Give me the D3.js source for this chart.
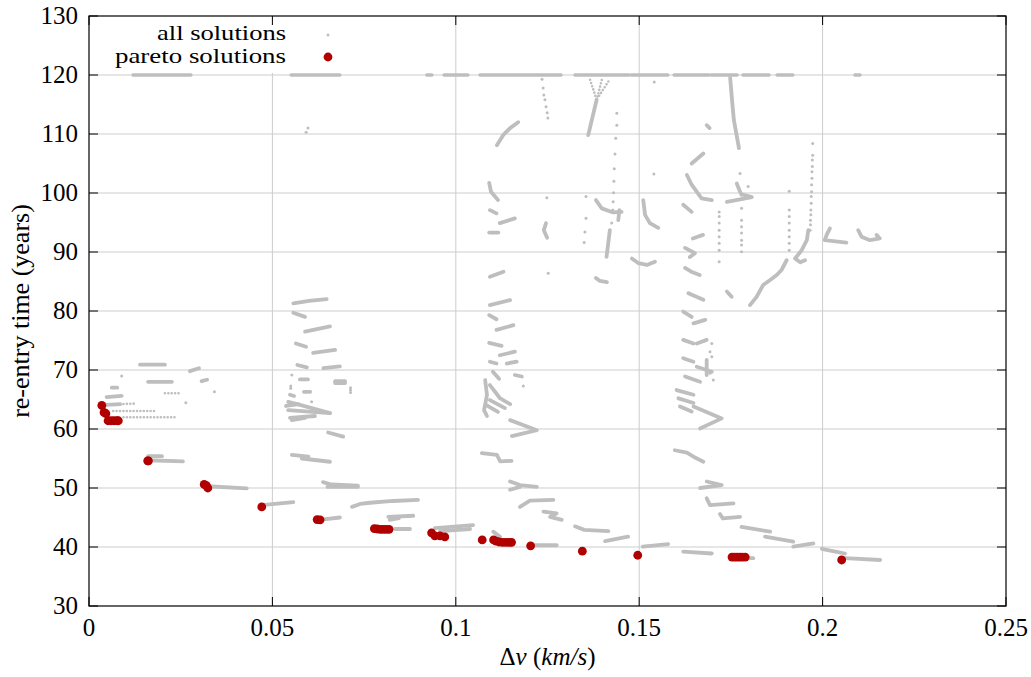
<!DOCTYPE html>
<html><head><meta charset="utf-8">
<script src="https://cdn.jsdelivr.net/npm/d3@7"></script>
<style>body{margin:0;background:#fff}</style>
</head><body><svg id="c" width="1031" height="677"></svg>
<script>
// ---------- data ----------
const xTicks=[0,0.05,0.1,0.15,0.2,0.25];
const xTickLabels=["0","0.05","0.1","0.15","0.2","0.25"];
const yTicks=[30,40,50,60,70,80,90,100,110,120,130];
const seriesNames=["all solutions","pareto solutions"];

// runs of solutions stacked on the 120-year cap: [xStart,xEnd]
const capValue=120;
const topRuns=[[0.0120,0.0278],[0.0551,0.0684],[0.0921,0.0935],[0.0968,0.1033],[0.1066,0.1287],[0.1325,0.1472],[0.1478,0.1578],[0.1595,0.1690],[0.1696,0.1767],[0.1783,0.1854],[0.1876,0.1919],[0.2088,0.2102]];

// dense families of "all solutions" (read as polylines)
const solidTracks=[
 [[0.0139,70.9],[0.0207,70.9]],
 [[0.0275,69.8],[0.0300,70.3]],
 [[0.0161,68.0],[0.0226,68.0]],
 [[0.0307,68.1],[0.0322,68.35]],
 [[0.0062,67.0],[0.0077,67.0]],
 [[0.0048,65.4],[0.0089,65.6]],
 [[0.0048,64.1],[0.0085,64.2]],
 [[0.0161,55.4],[0.0199,55.4]],
 [[0.0161,54.7],[0.0256,54.5]],
 [[0.0324,50.3],[0.0430,49.95]],
 [[0.0471,47.1],[0.0557,47.6]],
 [[0.0627,44.6],[0.0684,45.0]],
 [[0.0553,55.6],[0.0598,55.3]],
 [[0.0580,55.0],[0.0657,54.45]],
 [[0.0638,51.0],[0.0660,50.6],[0.0733,50.4]],
 [[0.0650,50.2],[0.0733,50.2]],
 [[0.0717,46.8],[0.0739,47.3],[0.0766,47.5],[0.0829,47.8],[0.0897,48.0]],
 [[0.0816,45.1],[0.0884,45.3]],
 [[0.0820,44.6],[0.0845,44.9]],
 [[0.0834,43.05],[0.0875,43.05]],
 [[0.0943,43.2],[0.1047,43.7]],
 [[0.0957,42.7],[0.1039,43.05]],
 [[0.1071,55.9],[0.1112,55.6],[0.1121,54.5],[0.1152,54.6]],
 [[0.1148,61.5],[0.1221,59.8],[0.1153,58.8]],
 [[0.1148,51.1],[0.1175,50.5],[0.1221,50.2]],
 [[0.1148,49.7],[0.1175,50.2]],
 [[0.1175,46.8],[0.1202,47.85],[0.1266,48.0]],
 [[0.1239,46.0],[0.1275,45.7],[0.1257,45.1],[0.1289,44.6]],
 [[0.1102,42.6],[0.1121,41.75]],
 [[0.1211,40.3],[0.1275,40.3]],
 [[0.1325,43.5],[0.1350,42.9],[0.1416,42.7]],
 [[0.1407,41.0],[0.1470,41.75]],
 [[0.1510,40.05],[0.1579,40.5]],
 // 0.11 column
 [[0.1091,101.7],[0.1096,100.2],[0.1115,98.8]],
 [[0.1093,97.1],[0.1111,96.55]],
 [[0.1120,94.9],[0.1161,95.7]],
 [[0.1091,93.3],[0.1116,93.3]],
 [[0.1093,85.8],[0.1130,86.65]],
 [[0.1093,81.0],[0.1148,81.85]],
 [[0.1091,79.3],[0.1111,78.6]],
 [[0.1111,76.8],[0.1157,77.6]],
 [[0.1091,74.6],[0.1125,74.1]],
 [[0.1120,72.5],[0.1161,73.1]],
 [[0.1093,71.4],[0.1111,71.1]],
 [[0.1139,71.1],[0.1166,71.4]],
 [[0.1161,69.15],[0.1180,68.9]],
 [[0.1080,68.3],[0.1085,65.8],[0.1077,63.2],[0.1085,62.2]],
 [[0.1093,67.45],[0.1120,65.25],[0.1148,64.2]],
 [[0.1093,64.9],[0.1134,63.55]],
 [[0.1082,64.1],[0.1115,62.9]],
 [[0.1101,69.7],[0.1118,68.5]],
 [[0.1112,108.1],[0.1129,109.8],[0.1148,111.0],[0.1170,112.0]],
 [[0.1246,94.9],[0.1240,93.7],[0.1249,92.4]],
 // 0.14 area
 [[0.1384,115.8],[0.1361,109.8]],
 [[0.1382,98.8],[0.1398,97.4],[0.1429,96.7],[0.1452,96.8]],
 [[0.1446,97.1],[0.1443,95.4]],
 [[0.1420,93.7],[0.1411,89.2]],
 [[0.1511,98.8],[0.1516,96.3],[0.1529,94.9],[0.1552,94.1]],
 [[0.1480,88.9],[0.1498,88.1],[0.1521,87.8],[0.1543,88.35]],
 [[0.1382,85.6],[0.1393,85.1],[0.1412,84.9]],
 // 0.16-0.2 area
 [[0.1684,111.5],[0.1692,111.0]],
 [[0.1748,119.5],[0.1753,115.8],[0.1758,112.4],[0.1772,107.6]],
 [[0.1643,105.0],[0.1675,106.7]],
 [[0.1630,103.05],[0.1643,101.4],[0.1670,99.1],[0.1698,98.8]],
 [[0.1620,98.0],[0.1643,96.8]],
 [[0.1739,98.5],[0.1775,98.9],[0.1807,99.3],[0.1784,99.7]],
 [[0.1766,101.6],[0.1773,100.5],[0.1779,99.7]],
 [[0.1961,93.7],[0.1957,92.0],[0.1943,90.3],[0.1925,88.9],[0.1939,88.25],[0.1952,88.6]],
 [[0.1902,88.6],[0.1888,86.95],[0.1875,86.1],[0.1857,85.25],[0.1838,84.4],[0.1820,82.4],[0.1802,81.0]],
 [[0.1674,92.9],[0.1646,92.3]],
 [[0.1625,90.7],[0.1652,89.8],[0.1638,89.15]],
 [[0.1625,87.3],[0.1644,86.6],[0.1665,86.1]],
 [[0.1634,83.0],[0.1675,81.9]],
 [[0.1739,83.3],[0.1752,82.4]],
 [[0.1620,79.9],[0.1643,79.0]],
 [[0.1648,77.9],[0.1680,78.5]],
 [[0.1620,75.1],[0.1648,74.5]],
 [[0.1657,74.5],[0.1684,75.1]],
 [[0.1620,72.0],[0.1648,71.4]],
 [[0.1657,70.55],[0.1698,69.7]],
 [[0.1684,71.7],[0.1684,69.15]],
 [[0.1625,68.9],[0.1666,68.0]],
 [[0.1602,66.6],[0.1648,65.8]],
 [[0.1607,65.2],[0.1648,64.4]],
 [[0.1611,63.8],[0.1643,62.95]],
 [[0.1648,63.8],[0.1725,61.8],[0.1666,60.1]],
 [[0.1597,56.4],[0.1630,56.0],[0.1648,55.3],[0.1675,54.45]],
 [[0.1666,50.0],[0.1725,50.5],[0.1684,51.1]],
 [[0.1684,48.25],[0.1693,47.1],[0.1757,47.4]],
 [[0.1720,45.6],[0.1728,44.85],[0.1775,45.1]],
 [[0.1779,43.4],[0.1857,42.6]],
 [[0.1843,41.75],[0.1920,40.9]],
 [[0.1920,40.05],[0.1975,40.6]],
 [[0.1620,39.2],[0.1698,38.9]],
 [[0.1797,38.1],[0.1811,38.1]],
 [[0.1998,39.7],[0.2028,39.3],[0.2061,38.9]],
 [[0.2061,38.1],[0.2157,37.8]],
 [[0.2020,94.0],[0.2011,92.9],[0.2006,92.0],[0.2065,91.6]],
 [[0.2097,93.7],[0.2106,92.6],[0.2129,92.0],[0.2156,92.3],[0.2147,92.9]],
 // 0.055-0.07 cluster
 [[0.0557,81.3],[0.0600,81.7],[0.0648,82.0]],
 [[0.0557,79.7],[0.0589,79.0]],
 [[0.0589,76.5],[0.0657,77.4]],
 [[0.0564,74.5],[0.0592,73.95]],
 [[0.0611,72.9],[0.0671,73.4]],
 [[0.0568,70.85],[0.0594,70.45]],
 [[0.0639,70.3],[0.0684,70.6]],
 [[0.0575,68.4],[0.0597,68.4]],
 [[0.0671,68.1],[0.0698,68.1]],
 [[0.0671,67.8],[0.0698,67.8]],
 [[0.0586,66.3],[0.0603,66.3]],
 [[0.0548,65.8],[0.0559,65.6]],
 [[0.0537,63.9],[0.0571,64.2]],
 [[0.0543,64.6],[0.0575,64.1],[0.0657,62.7]],
 [[0.0543,63.2],[0.0657,62.7]],
 [[0.0548,61.9],[0.0616,62.2]],
 [[0.0553,61.5],[0.0589,61.9]],
 [[0.0652,59.4],[0.0693,58.7]]
];

// sparse rows of individual solutions (evenly spaced dots in the picture)
const dottedTracks=[
 [[0.0094,64.25],[0.0125,64.3]],
 [[0.0066,63.05],[0.0185,63.05]],
 [[0.0094,62.0],[0.0237,62.0]],
 [[0.0207,66.05],[0.0246,66.05]],
 [[0.1366,119.2],[0.1384,115.8]],
 [[0.1398,119.15],[0.1384,115.8]],
 [[0.1416,118.9],[0.1387,116.1]]
];

// isolated solutions
const grayDots=[
 [0.1439,113.5],[0.1439,111.5],[0.1436,109.3],[0.1434,106.6],[0.1432,104.1],[0.1431,102.0],[0.1430,100.05],[0.1429,98.5],[0.1428,97.1],[0.1425,94.9],
 [0.1355,99.4],[0.1355,95.7],[0.1352,93.4],[0.1350,91.6],
 [0.1541,118.8],[0.1540,103.2],
 [0.1718,96.8],[0.1718,96.0],[0.1718,94.9],[0.1718,93.7],[0.1718,92.6],[0.1718,91.5],[0.1718,90.3],[0.1718,88.35],
 [0.1779,97.4],[0.1779,95.4],[0.1779,94.3],[0.1779,93.2],[0.1779,92.0],[0.1779,91.2],[0.1779,90.05],
 [0.1909,100.3],[0.1909,97.1],[0.1909,96.0],[0.1909,94.9],[0.1909,93.7],[0.1909,92.6],[0.1909,91.5],[0.1909,90.3],
 [0.1973,108.4],[0.1973,106.4],[0.1972,105.6],[0.1972,104.5],[0.1971,103.6],[0.1971,102.5],[0.1970,101.4],[0.1970,100.2],[0.1969,99.4],[0.1969,98.25],[0.1968,97.1],[0.1968,96.3],[0.1967,95.4],[0.1967,94.6],[0.1966,93.7],
 [0.1775,103.3],[0.1797,101.1],[0.1698,74.5],[0.1693,73.1],[0.1698,72.25],[0.1702,68.3],[0.1693,69.45],
 [0.1248,99.2],[0.1252,86.4],[0.1184,67.3],
 [0.1235,119.3],[0.1238,117.8],[0.1240,116.6],[0.1243,115.8],[0.1246,114.6],[0.1249,113.6],[0.1251,112.7],
 [0.0597,111.0],[0.0592,110.3],[0.0553,69.15],[0.0550,67.3],[0.0550,66.9],[0.0713,67.0],[0.0713,66.6],[0.0713,66.2],[0.0607,64.6],
 [0.0089,69.0],[0.0342,66.3],[0.0264,64.45]
];

// pareto front
const paretoPts=[
 [0.0035,64.0],[0.0041,62.8],[0.0046,62.6],[0.0052,61.4],[0.0060,61.4],[0.0068,61.4],[0.0076,61.4],[0.0080,61.4],
 [0.0160,54.6],[0.0162,54.6],
 [0.0314,50.6],[0.0320,50.4],[0.0324,50.0],
 [0.0471,46.8],
 [0.0622,44.65],[0.0630,44.6],
 [0.0778,43.1],[0.0786,43.05],[0.0794,43.0],[0.0802,43.0],[0.0810,43.0],[0.0818,43.0],
 [0.0934,42.4],[0.0943,41.9],[0.0957,41.9],[0.0970,41.7],
 [0.1072,41.2],
 [0.1103,41.2],[0.1110,41.0],[0.1118,40.85],[0.1127,40.8],[0.1136,40.8],[0.1145,40.8],[0.1152,40.8],
 [0.1204,40.2],[0.1345,39.3],[0.1496,38.6],
 [0.1753,38.3],[0.1760,38.3],[0.1767,38.3],[0.1774,38.3],[0.1781,38.3],[0.1789,38.3],
 [0.2052,37.8]
];

// ---------- drawing ----------
const FONT="'Liberation Serif', 'DejaVu Serif', serif";
const L=89,R=1006,T=16,B=606;
const GRAY="#bebebe",RED="#b00000",GRID="#cdcdcd";
const svg=d3.select("#c");
const x=d3.scaleLinear().domain([0,0.25]).range([L,R]);
const y=d3.scaleLinear().domain([30,130]).range([B,T]);

// grid
svg.append("g").selectAll("line").data(xTicks.slice(1,-1)).join("line")
 .attr("x1",d=>x(d)).attr("x2",d=>x(d)).attr("y1",T).attr("y2",B)
 .attr("stroke",GRID).attr("stroke-width",1);
svg.append("g").selectAll("line").data(yTicks.slice(1,-1)).join("line")
 .attr("x1",L).attr("x2",R).attr("y1",d=>y(d)).attr("y2",d=>y(d))
 .attr("stroke",GRID).attr("stroke-width",1);
// legend background (opaque key box)
svg.append("rect").attr("x",L+1).attr("y",T+1).attr("width",255).attr("height",56).attr("fill","#fff");

const line=d3.line().x(d=>x(d[0])).y(d=>y(d[1]));
const g=svg.append("g");
g.selectAll("line.cap").data(topRuns).join("line").attr("class","cap")
 .attr("x1",d=>x(d[0])).attr("x2",d=>x(d[1])).attr("y1",y(capValue)).attr("y2",y(capValue))
 .attr("stroke",GRAY).attr("stroke-width",3.4).attr("stroke-linecap","round");
g.selectAll("path.solid").data(solidTracks).join("path").attr("class","solid")
 .attr("d",line).attr("fill","none").attr("stroke",GRAY).attr("stroke-width",3.8)
 .attr("stroke-linecap","round").attr("stroke-linejoin","round");
g.selectAll("path.dot").data(dottedTracks).join("path").attr("class","dot")
 .attr("d",line).attr("fill","none").attr("stroke",GRAY).attr("stroke-width",2.6)
 .attr("stroke-linecap","round").attr("stroke-dasharray","0,3.4");
g.selectAll("circle.gd").data(grayDots).join("circle").attr("class","gd")
 .attr("cx",d=>x(d[0])).attr("cy",d=>y(d[1])).attr("r",1.5).attr("fill",GRAY);
g.selectAll("circle.pd").data(paretoPts).join("circle").attr("class","pd")
 .attr("cx",d=>x(d[0])).attr("cy",d=>y(d[1])).attr("r",4.4).attr("fill",RED);

// frame + ticks
svg.append("rect").attr("x",L).attr("y",T).attr("width",R-L).attr("height",B-T)
 .attr("fill","none").attr("stroke","#000").attr("stroke-width",1.2);
const tk=svg.append("g").attr("stroke","#000").attr("stroke-width",1);
yTicks.forEach(v=>{
 tk.append("line").attr("x1",L).attr("x2",L+9).attr("y1",y(v)).attr("y2",y(v));
 tk.append("line").attr("x1",R).attr("x2",R-9).attr("y1",y(v)).attr("y2",y(v));
});
xTicks.forEach(v=>{
 tk.append("line").attr("x1",x(v)).attr("x2",x(v)).attr("y1",B).attr("y2",B-9);
 tk.append("line").attr("x1",x(v)).attr("x2",x(v)).attr("y1",T).attr("y2",T+9);
});
function txt(sel){return sel.attr("font-family",FONT).attr("fill","#000");}
// tick labels
txt(svg.append("g").selectAll("text").data(yTicks).join("text"))
 .attr("x",L-11).attr("y",d=>y(d)+8).attr("text-anchor","end").attr("font-size",25).text(d=>d);
txt(svg.append("g").selectAll("text").data(xTicks).join("text"))
 .attr("x",d=>x(d)).attr("y",B+30).attr("text-anchor","middle").attr("font-size",25)
 .text((d,i)=>xTickLabels[i]);
// axis titles
const xt=txt(svg.append("text")).attr("x",(L+R)/2).attr("y",665).attr("text-anchor","middle").attr("font-size",25);
xt.append("tspan").text("Δ");
xt.append("tspan").attr("font-style","italic").text("v");
xt.append("tspan").text(" (");
xt.append("tspan").attr("font-style","italic").text("km/s");
xt.append("tspan").text(")");
txt(svg.append("text")).attr("transform",`translate(29,${(T+B)/2}) rotate(-90)`)
 .attr("text-anchor","middle").attr("font-size",26).text("re-entry time (years)");

// legend
txt(svg.append("text")).attr("x",157).attr("y",40).attr("font-size",21)
 .attr("textLength",129).attr("lengthAdjust","spacingAndGlyphs").text(seriesNames[0]);
txt(svg.append("text")).attr("x",115).attr("y",63).attr("font-size",21)
 .attr("textLength",171).attr("lengthAdjust","spacingAndGlyphs").text(seriesNames[1]);
svg.append("circle").attr("cx",328).attr("cy",35).attr("r",1.5).attr("fill",GRAY);
svg.append("circle").attr("cx",328).attr("cy",57).attr("r",4.4).attr("fill",RED);
</script></body></html>
